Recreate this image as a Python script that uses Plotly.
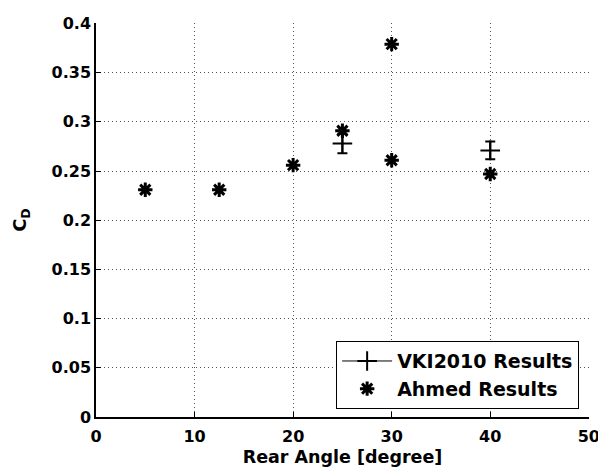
import plotly.graph_objects as go

# Data
vki_angle = [25, 40]
vki_cd = [0.278, 0.271]
vki_err = [0.010, 0.009]

ahmed_angle = [5, 12.5, 20, 25, 30, 30, 40]
ahmed_cd = [0.231, 0.231, 0.256, 0.291, 0.379, 0.261, 0.247]

x_ticks = [0, 10, 20, 30, 40, 50]
y_ticks = [0, 0.05, 0.1, 0.15, 0.2, 0.25, 0.3, 0.35, 0.4]
y_ticklabels = ["0", "0.05", "0.1", "0.15", "0.2", "0.25", "0.3", "0.35", "0.4"]

FONT = "DejaVu Sans"
GRID = "#555555"

# break line between points so only markers + error bars are drawn
vx, vy, ve = [], [], []
for i, (a, c, e) in enumerate(zip(vki_angle, vki_cd, vki_err)):
    if i:
        vx.append(None); vy.append(None); ve.append(None)
    vx.append(a); vy.append(c); ve.append(e)

fig = go.Figure()
fig.add_trace(go.Scatter(
    x=vx, y=vy, mode="lines+markers", name="VKI2010 Results",
    connectgaps=False,
    line=dict(color="black", width=1),
    marker=dict(symbol="cross-thin-open", size=14, color="black",
                line=dict(color="black", width=2)),
    error_y=dict(type="data", array=ve, visible=True, color="black", thickness=2, width=5),
))
fig.add_trace(go.Scatter(
    x=ahmed_angle, y=ahmed_cd, mode="markers", name="Ahmed Results",
    marker=dict(symbol="asterisk-open", size=12, color="black",
                line=dict(color="black", width=3)),
))

fig.update_layout(
    width=598, height=468,
    margin=dict(l=96, r=9, t=23, b=51),
    paper_bgcolor="white", plot_bgcolor="white",
    font=dict(family=FONT, size=16, color="black", weight="bold"),
    showlegend=True,
    legend=dict(
        x=0.98, y=0.02, xanchor="right", yanchor="bottom",
        bgcolor="white", bordercolor="black", borderwidth=1,
        font=dict(family=FONT, size=19, color="black", weight="bold"),
        tracegroupgap=0, itemwidth=50,
    ),
)
fig.update_xaxes(
    range=[0, 50.02], tickvals=x_ticks, ticktext=[str(t) for t in x_ticks],
    showgrid=True, gridcolor=GRID, griddash="1px,3px", gridwidth=1,
    showline=True, linecolor="black", linewidth=1.5, mirror=False,
    ticks="inside", ticklen=5, tickcolor="black", zeroline=False,
    automargin=False, ticklabelstandoff=4, ticklabeloverflow="allow",
    title=dict(text="Rear Angle [degree]", font=dict(family=FONT, size=17.5, weight="bold"), standoff=6),
    tickfont=dict(family=FONT, size=16, weight="bold"),
)
fig.update_yaxes(
    range=[0, 0.4005], tickvals=y_ticks, ticktext=y_ticklabels,
    showgrid=True, gridcolor=GRID, griddash="1px,3px", gridwidth=1,
    showline=True, linecolor="black", linewidth=1.5, mirror=False,
    ticks="inside", ticklen=5, tickcolor="black", zeroline=False,
    automargin=False, ticklabeloverflow="allow",
    title=dict(text="C<sub>D</sub>", font=dict(family=FONT, size=18, weight="bold"), standoff=20),
    tickfont=dict(family=FONT, size=16, weight="bold"),
)

# remove the page's default body margin so the 598x468 figure fills the window
fig.write_html(
    "out.html",
    config={"displayModeBar": False},
    post_script="document.body.style.margin='0';document.body.style.overflow='hidden';",
)
